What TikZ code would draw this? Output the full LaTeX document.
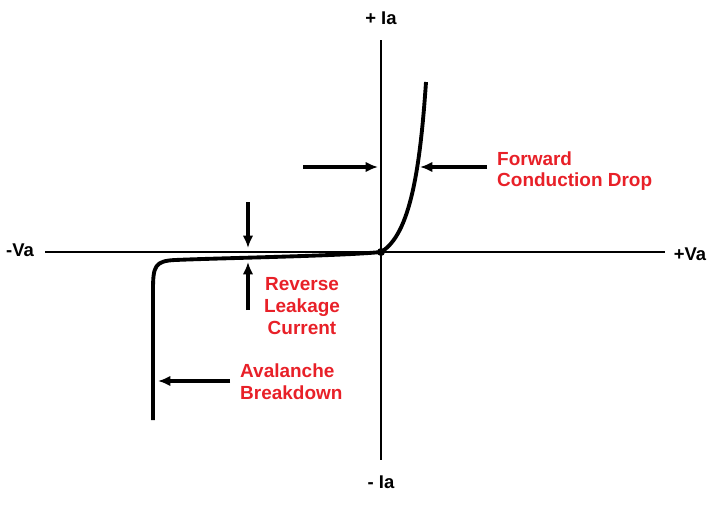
\documentclass[tikz,border=0pt]{standalone}
\usepackage{fontspec}
\setmainfont{Liberation Sans}
\usetikzlibrary{arrows.meta}
\definecolor{lblred}{RGB}{232,32,40}
\begin{document}
\begin{tikzpicture}[x=0.02cm,y=-0.02cm,
  axis/.style={line width=1.2pt},
  arr/.style={line width=2pt,-{Latex[length=7pt,width=6pt]}},
  lbl/.style={text=lblred,font=\fontsize{10.8}{12.4}\selectfont\bfseries,align=left},
  ax/.style={font=\fontsize{10.5}{12}\selectfont\bfseries}]
\useasboundingbox (0,0) rectangle (720,505);
\coordinate (L) at (45,252); \coordinate (R) at (665,252);
\coordinate (T) at (381,40); \coordinate (B) at (381,460);
\draw[axis] (L) -- (R); \draw[axis] (T) -- (B);
\node[ax] (ip) at (381,18) {+ Ia};
\node[ax] (im) at (381,482) {- Ia};
\node[ax] (vm) at (20,250) {-Va};
\node[ax] (vp) at (690,254) {+Va};
\coordinate (O) at (381,252);
\draw[line width=2.2pt,line join=round] (426,82) .. controls (420,170) and (410,235) .. (O)
  .. controls (340,256) and (220,258) .. (175,260) .. controls (155,261) and (153,266) .. (153,290) -- (153,420);
\fill (O) circle (4);
\coordinate (a1) at (303,167); \coordinate (a1e) at (378,167);
\coordinate (a2) at (487,167); \coordinate (a2e) at (420,167);
\draw[arr] (a1) -- (a1e); \draw[arr] (a2) -- (a2e);
\node[lbl,anchor=west] (fw) at (491,171) {Forward\\Conduction Drop};
\coordinate (b1) at (248,202); \coordinate (b1e) at (248,248);
\coordinate (b2) at (248,310); \coordinate (b2e) at (248,262);
\draw[arr] (b1) -- (b1e); \draw[arr] (b2) -- (b2e);
\node[lbl,align=center] (rl) at (302,306) {Reverse\\Leakage\\Current};
\coordinate (c1) at (230,381); \coordinate (c1e) at (158,381);
\draw[arr] (c1) -- (c1e);
\node[lbl,anchor=west] (av) at (234,382) {Avalanche\\Breakdown};
\end{tikzpicture}
\end{document}
